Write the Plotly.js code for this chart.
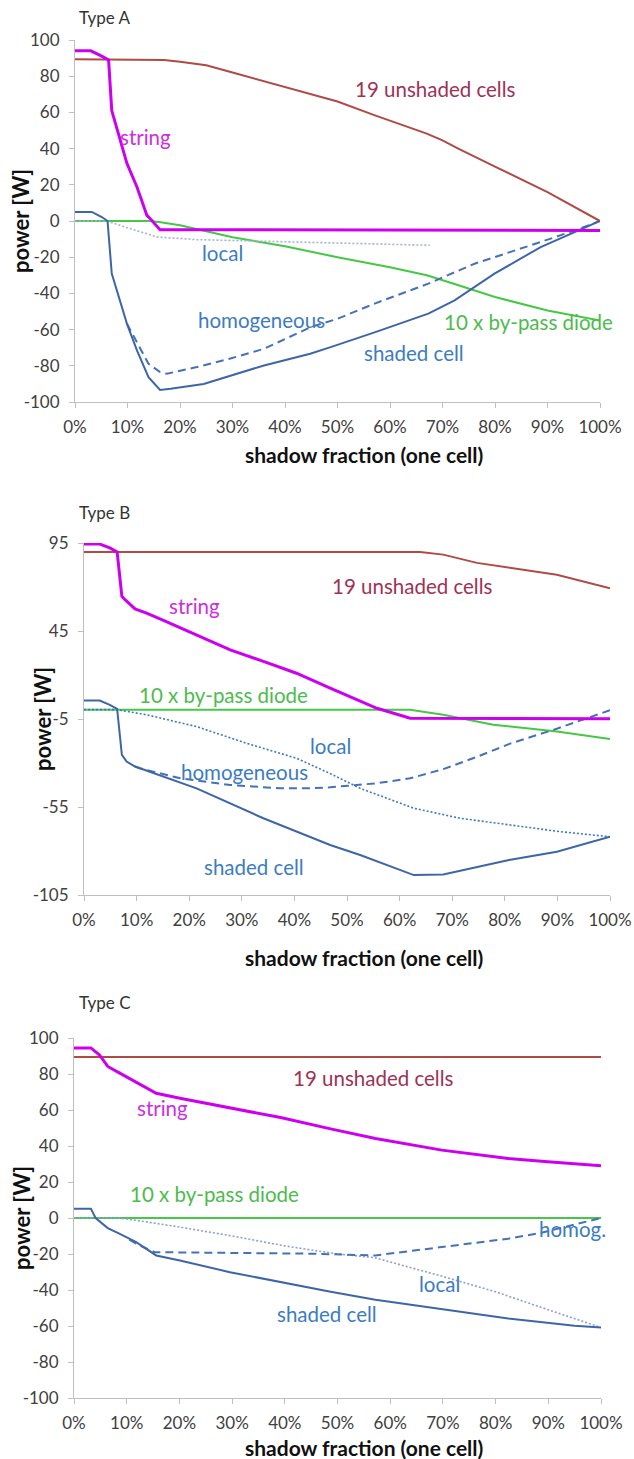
<!DOCTYPE html>
<html><head><meta charset="utf-8">
<script src="https://cdn.plot.ly/plotly-3.0.1.min.js"></script>
<style>html,body{margin:0;padding:0;background:#fff}#chart{width:634px;height:1459px}</style>
</head><body><div id="chart"></div>
<script>
// ---------- DATA (x = shadow fraction in %, y = power in W) ----------
const xTicks = [0,10,20,30,40,50,60,70,80,90,100];
const yTicksA = [100,80,60,40,20,0,-20,-40,-60,-80,-100];
const yTicksB = [95,45,-5,-55,-105];
const yTicksC = [100,80,60,40,20,0,-20,-40,-60,-80,-100];
const panelTitles = ['Type A','Type B','Type C'];

// Type A
const aUnshadedX = [0,10,15,17,20,25,30,35,40,45,50,57,62,67,70,73,80,90,100];
const aUnshadedY = [89.4,89.4,89.3,89,88,86,82,78,74,70.4,66,58.5,53.5,48.3,44.5,40,30,16,0];
const aStringX = [0,3,4.8,6.4,7,8.6,9.9,11.8,13.7,14.6,16.2,100];
const aStringY = [94,94,91.5,89,61,44.6,31.7,18.8,3.1,0.4,-4.8,-5.2];
const aDiodeX = [0,14,16,20,30,40,45,50,60,67,72,80,90,100];
const aDiodeY = [0,0,-0.5,-2.4,-9,-14,-17,-20,-25.5,-30,-34.5,-42,-49.5,-55];
const aShadedX = [0,3.2,5.1,6.2,7,8.3,9.9,11.8,14,16.2,18.2,24.5,36,44.8,48.7,57.2,67.3,72.3,79.9,88.7,100];
const aShadedY = [5,5,2.2,0,-29,-42,-56.8,-71.5,-86.3,-93.3,-92.7,-90,-79.8,-73.3,-69.7,-61.4,-51.2,-43.8,-29.1,-14.4,0];
const aHomogX = [9.9,11.8,14,16.2,17.5,23.2,29.6,36,45,50,57.2,67.3,76.1,88.7,96.2,100];
const aHomogY = [-56.8,-66.9,-78.9,-83.5,-84.4,-80.7,-76,-70.6,-58.5,-54,-45.5,-34.6,-23.6,-11.6,-4.2,0];
const aLocalX = [0,6,10.5,15.6,23.2,36,48.7,67.6];
const aLocalY = [0,0,-4.2,-8.8,-10.3,-11.2,-12.2,-13.4];

// Type B
const bUnshadedX = [0,63.9,68.3,74.7,89.9,100];
const bUnshadedY = [89.9,89.9,88.4,83.7,77,69.3];
const bStringX = [0,3,4.9,6.3,7.2,7.8,9.7,11.9,15.1,21.4,27.8,34.1,40.4,46.8,55.7,62,100];
const bStringY = [94.4,94.4,92.2,89.9,64.7,62.8,57.6,55.2,51,42.9,34.3,27.7,21,12.5,1.1,-4.6,-4.9];
const bDiodeX = [0,62,68.3,77.8,89.9,100];
const bDiodeY = [0.3,0.2,-2.6,-8.3,-12.1,-16.3];
const bShadedX = [0,3,4.9,6.3,7.2,8.1,9.7,21.4,34.1,43,46.8,52.5,62.7,68.3,80.8,89.9,100];
const bShadedY = [5.5,5.5,3,0.8,-25.4,-29.2,-32,-44.4,-61.4,-71.9,-76.6,-82.3,-93.7,-93.3,-85.1,-80.4,-71.9];
const bHomogX = [9.7,10.6,18.3,27.8,37.3,43,46.8,52.5,55.7,62,68.3,74.7,81,89.9,100];
const bHomogY = [-32,-33,-38.7,-42.5,-44.4,-44.4,-43.8,-42.1,-41.5,-38.7,-33.5,-26.5,-19,-10.5,0];
const bLocalX = [0,6.3,11.9,21.4,30.9,40.4,46.8,52.5,62.7,71.5,81,90.5,100];
const bLocalY = [0.3,0.3,-2.6,-9.3,-18.8,-27.3,-36,-44.4,-55.7,-61.4,-65.2,-69,-71.9];

// Type C
const cUnshadedX = [0,50,100];
const cUnshadedY = [89.5,89.5,89.5];
const cStringX = [0,3.2,4.8,6.4,8.6,11.8,15.6,20.1,29.6,39.2,48.7,57.2,69.8,82.4,89.9,100];
const cStringY = [94.5,94.5,90.7,84.2,80.6,75.5,69.3,66.5,61.3,55.8,49.5,44.2,37.7,33.1,31.2,29];
const cDiodeX = [0,50,100];
const cDiodeY = [0,0,0];
const cShadedX = [0,3.2,4.1,6.4,8.6,11.8,15.6,20.1,29.6,39.2,48.7,57.2,69.8,82.4,95,100];
const cShadedY = [5.2,5.2,0,-5.6,-8.7,-13.4,-20.8,-23.6,-30.1,-35.7,-41,-45.4,-50.6,-55.8,-59.9,-60.8];
const cHomogX = [10.5,12.4,15.3,29.6,44.7,57.2,69.8,82.4,88.7,100];
const cHomogY = [-12,-15.2,-19,-19.5,-19.8,-20.8,-16.2,-11.5,-8.2,0];
const cLocalX = [0,8,10,20,30,40,50,57,70,80,90,100];
const cLocalY = [0,0,-0.5,-5,-10,-15.5,-20,-22,-32.5,-41,-51,-60.8];

// ---------- LAYOUT HELPERS ----------
const W = 634, H = 1459;
const FONT = 'Lato, "Open Sans", "Liberation Sans", sans-serif';
const COL = {
  unsh:'#B04A45', unshTxt:'#9E3254',
  str:'#CC00EE', strTxt:'#CC2EE0',
  dio:'#45C845', dioTxt:'#4DBB4D',
  sh:'#3E66A6', shTxt:'#3C7CC2',
  hom:'#4472B6', locA:'#A5AFDC', locB:'#3F78BE', locC:'#8E9ED2'
};
const px2x = p => p / W;
const px2y = p => 1 - p / H;

const panels = [
  {ax:'', left:75, right:600, top:40, bottom:402, range:[-100,100], yt:yTicksA,
   data:[aUnshadedX,aUnshadedY,aStringX,aStringY,aDiodeX,aDiodeY,aShadedX,aShadedY,aHomogX,aHomogY,aLocalX,aLocalY],
   loc:COL.locA, titleY:17, ytitleX:21, xtitleY:455},
  {ax:'2', left:84, right:610, top:543, bottom:895, range:[-105,95], yt:yTicksB,
   data:[bUnshadedX,bUnshadedY,bStringX,bStringY,bDiodeX,bDiodeY,bShadedX,bShadedY,bHomogX,bHomogY,bLocalX,bLocalY],
   loc:COL.locB, titleY:512, ytitleX:42, xtitleY:957},
  {ax:'3', left:74, right:601, top:1038, bottom:1398, range:[-100,100], yt:yTicksC,
   data:[cUnshadedX,cUnshadedY,cStringX,cStringY,cDiodeX,cDiodeY,cShadedX,cShadedY,cHomogX,cHomogY,cLocalX,cLocalY],
   loc:COL.locC, titleY:1002, ytitleX:21, xtitleY:1447}
];

const traces = [];
const layout = {
  width:W, height:H, margin:{l:0,r:0,t:0,b:0},
  paper_bgcolor:'#fff', plot_bgcolor:'#fff', showlegend:false,
  font:{family:FONT, color:'#404040'},
  annotations:[]
};

panels.forEach((p, i) => {
  const xa = 'x'+p.ax, ya = 'y'+p.ax;
  const d = p.data;
  const mk = (x,y,color,width,dash) => ({x, y, xaxis:xa, yaxis:ya, type:'scatter', mode:'lines',
    line:{color, width, dash: dash || 'solid'}, hoverinfo:'skip'});
  traces.push(mk(d[4],d[5],COL.dio,2));
  traces.push(mk(d[10],d[11],p.loc,1.6,'2px,2px'));
  traces.push(mk(d[8],d[9],COL.hom,2,'8px,5px'));
  traces.push(mk(d[6],d[7],COL.sh,2));
  traces.push(mk(d[0],d[1],COL.unsh,2));
  traces.push(mk(d[2],d[3],COL.str,3));

  const axBase = {showline:true, linecolor:'#BFBFBF', linewidth:1, ticks:'outside', ticklen:5,
    tickcolor:'#BFBFBF', showgrid:false, zeroline:false, fixedrange:true,
    tickfont:{family:FONT, size:17, color:'#404040'}};
  layout['xaxis'+p.ax] = Object.assign({}, axBase, {
    domain:[px2x(p.left), px2x(p.right)], anchor:ya, range:[0,100], ticklabelstandoff:5,
    tickmode:'array', tickvals:xTicks, ticktext:xTicks.map(v => v+'%')});
  layout['yaxis'+p.ax] = Object.assign({}, axBase, {
    domain:[px2y(p.bottom), px2y(p.top)], anchor:xa, range:p.range, ticklabelstandoff:6,
    tickmode:'array', tickvals:p.yt, ticktext:p.yt.map(String)});

  layout.annotations.push(
    {xref:'paper', yref:'paper', x:px2x(77), y:px2y(p.titleY), xanchor:'left', yanchor:'middle',
     text:panelTitles[i], showarrow:false, font:{family:FONT, size:17, color:'#333'}},
    {xref:'paper', yref:'paper', x:px2x(p.ytitleX), y:px2y((p.top+p.bottom)/2), xanchor:'center', yanchor:'middle',
     textangle:-90, text:'<b>power [W]</b>', showarrow:false, font:{family:FONT, size:22, color:'#111'}},
    {xref:'paper', yref:'paper', x:px2x(364), y:px2y(p.xtitleY), xanchor:'center', yanchor:'middle',
     text:'<b>shadow fraction (one cell)</b>', showarrow:false, font:{family:FONT, size:21, color:'#111'}}
  );
});

// series labels (data coordinates)
const lab = (ax, x, y, text, color) => ({xref:'x'+ax, yref:'y'+ax, x, y, text, showarrow:false,
  xanchor:'center', yanchor:'middle', font:{family:FONT, size:20.5, color}});
layout.annotations.push(
  lab('', 68.6, 73.2, '19 unshaded cells', COL.unshTxt),
  lab('', 13.5, 46.5, 'string', COL.strTxt),
  lab('', 28.1, -17.7, 'local', COL.shTxt),
  lab('', 35.6, -54.9, 'homogeneous', COL.shTxt),
  lab('', 86.3, -55.8, '10 x by-pass diode', COL.dioTxt),
  lab('', 64.5, -73, 'shaded cell', COL.shTxt),

  lab('2', 62.5, 70.3, '19 unshaded cells', COL.unshTxt),
  lab('2', 21.1, 59, 'string', COL.strTxt),
  lab('2', 26.5, 8.7, '10 x by-pass diode', COL.dioTxt),
  lab('2', 46.8, -20.1, 'local', COL.shTxt),
  lab('2', 30.6, -34.9, 'homogeneous', COL.shTxt),
  lab('2', 32.4, -89, 'shaded cell', COL.shTxt),

  lab('3', 56.8, 77.7, '19 unshaded cells', COL.unshTxt),
  lab('3', 16.7, 61.3, 'string', COL.strTxt),
  lab('3', 26.6, 13.6, '10 x by-pass diode', COL.dioTxt),
  lab('3', 94.6, -6.3, 'homog.', COL.shTxt),
  lab('3', 69.4, -36.6, 'local', COL.shTxt),
  lab('3', 48, -53.3, 'shaded cell', COL.shTxt)
);

Plotly.newPlot('chart', traces, layout, {displayModeBar:false, staticPlot:true});
</script>
</body></html>
